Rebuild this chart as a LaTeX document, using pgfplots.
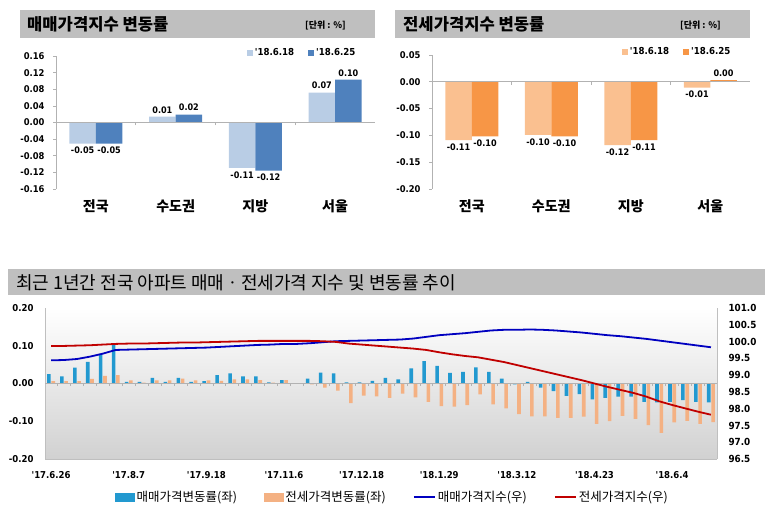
\documentclass[border=0pt]{standalone}
\usepackage{fontspec}
\setmainfont{Noto Sans CJK KR}
\newfontfamily\numfont{DejaVu Sans Condensed}
\usepackage{pgfplots}
\usepackage{pgfplotstable}
\pgfplotsset{compat=1.18}

\definecolor{cTitle}{HTML}{BFBFBF}
\definecolor{cLa}{HTML}{B9CDE5}
\definecolor{cDa}{HTML}{4F81BD}
\definecolor{cLb}{HTML}{FAC090}
\definecolor{cDb}{HTML}{F79646}
\definecolor{cBarB}{HTML}{2299D0}
\definecolor{cBarO}{HTML}{F4B183}
\definecolor{cLineB}{HTML}{0000C0}
\definecolor{cLineR}{HTML}{C00000}

\pgfplotstableread{
idx sale jeonse saleidx jeonseidx
0 0.025 0.006 99.44 99.87
1 0.019 0.006 99.45 99.87
2 0.042 0.006 99.48 99.88
3 0.057 0.012 99.55 99.89
4 0.077 0.020 99.64 99.91
5 0.104 0.022 99.75 99.93
6 0.004 0.008 99.76 99.94
7 0.004 0.002 99.77 99.94
8 0.015 0.008 99.78 99.95
9 0.004 0.008 99.79 99.96
10 0.015 0.013 99.80 99.97
11 0.004 0.008 99.81 99.97
12 0.006 0.008 99.82 99.98
13 0.022 0.007 99.84 99.99
14 0.027 0.011 99.86 100.00
15 0.019 0.011 99.88 100.01
16 0.019 0.009 99.90 100.02
17 0.003 0.002 99.91 100.02
18 0.009 0.009 99.93 100.02
19 0.001 0.000 99.93 100.02
20 0.013 -0.002 99.95 100.02
21 0.029 -0.011 99.98 100.01
22 0.027 -0.019 100.01 99.99
23 0.003 -0.052 100.02 99.94
24 0.003 -0.032 100.03 99.91
25 0.007 -0.034 100.04 99.88
26 0.015 -0.038 100.05 99.85
27 0.011 -0.027 100.06 99.82
28 0.040 -0.037 100.09 99.79
29 0.059 -0.049 100.14 99.75
30 0.047 -0.060 100.19 99.68
31 0.028 -0.061 100.22 99.62
32 0.031 -0.057 100.25 99.57
33 0.043 -0.029 100.29 99.53
34 0.031 -0.055 100.33 99.46
35 0.013 -0.066 100.35 99.39
36 -0.002 -0.081 100.35 99.30
37 0.004 -0.087 100.36 99.21
38 -0.011 -0.087 100.35 99.12
39 -0.020 -0.091 100.33 99.03
40 -0.033 -0.091 100.30 98.94
41 -0.028 -0.088 100.27 98.85
42 -0.042 -0.107 100.23 98.75
43 -0.038 -0.100 100.19 98.65
44 -0.035 -0.086 100.16 98.56
45 -0.035 -0.094 100.12 98.47
46 -0.049 -0.110 100.08 98.36
47 -0.050 -0.131 100.03 98.22
48 -0.049 -0.103 99.98 98.11
49 -0.044 -0.099 99.93 98.01
50 -0.049 -0.107 99.88 97.91
51 -0.050 -0.102 99.83 97.82
}\weekly

\pgfplotsset{
  topchart/.style={
    anchor=south west, scale only axis,
    xmin=-0.5, xmax=3.5,
    ybar=0pt, bar width=26.5pt,
    axis x line*=bottom, axis y line*=left,
    x axis line style={draw=none},
    y axis line style={-, draw=gray!60, line width=0.6pt},
    xtick={0,1,2,3}, xticklabels={전국,수도권,지방,서울},
    xtick style={draw=none},
    xticklabel style={font=\bfseries\fontsize{14}{15}\selectfont, yshift=-4pt},
    ytick style={draw=gray!60, line width=0.6pt},
    tick align=outside, major tick length=3pt,
    yticklabel style={font=\numfont\bfseries\fontsize{9.3}{10}\selectfont, xshift=-5pt},
    scaled y ticks=false,
    /pgf/number format/fixed, /pgf/number format/fixed zerofill,
    /pgf/number format/precision=2, /pgf/number format/assume math mode=true,
    nodes near coords, point meta=y,
    every node near coord/.append style={font=\numfont\bfseries\fontsize{9}{10}\selectfont, black},
    legend style={draw=none, fill=none, at={(axis description cs:0.955,1.025)}, anchor=east,
      font=\numfont\bfseries\fontsize{9.6}{10}\selectfont,
      /tikz/every even column/.append style={column sep=12pt}},
    legend columns=2,
    legend image code/.code={\fill[##1] (0pt,-3pt) rectangle (6pt,3pt);},
    clip=false,
  },
  zeroline/.style={
    anchor=south west, scale only axis,
    axis x line=middle, axis y line=none,
    axis line style={-, draw=gray!60, line width=0.6pt},
    xticklabels={}, ytick=\empty,
    tick align=outside, major tick length=3pt,
    xtick style={draw=gray!60, line width=0.6pt},
  },
}

\begin{document}
\begin{tikzpicture}
\useasboundingbox (0pt,0pt) rectangle (770pt,524pt);

% title boxes
\fill[cTitle] (20pt,486pt) rectangle (375pt,514pt);
\node[anchor=west, font=\bfseries\fontsize{16.6}{17}\selectfont, inner sep=0pt] at (27pt,500pt) {매매가격지수 변동률};
\node[anchor=east, font=\bfseries\fontsize{9}{10}\selectfont, inner sep=0pt] at (346pt,499pt) {[단위 : \%]};

\fill[cTitle] (395pt,486pt) rectangle (750pt,514pt);
\node[anchor=west, font=\bfseries\fontsize{16.6}{17}\selectfont, inner sep=0pt] at (403pt,500pt) {전세가격지수 변동률};
\node[anchor=east, font=\bfseries\fontsize{9}{10}\selectfont, inner sep=0pt] at (721pt,499pt) {[단위 : \%]};

\fill[cTitle] (8pt,229pt) rectangle (765pt,255pt);
\node[anchor=west, font=\fontsize{18}{19}\selectfont, inner sep=0pt] at (16pt,241pt) {최근 1년간 전국 아파트 매매ㆍ전세가격 지수 및 변동률 추이};

% ---------- top-left: 매매 ----------
\begin{axis}[topchart, at={(56pt,335pt)}, width=319pt, height=133pt,
  ymin=-0.16, ymax=0.16,
  ytick={-0.16,-0.12,-0.08,-0.04,0,0.04,0.08,0.12,0.16}]
\addplot[fill=cLa, draw=none] coordinates {(0,-0.051) (1,0.014) (2,-0.109) (3,0.072)};
\addplot[fill=cDa, draw=none] coordinates {(0,-0.051) (1,0.019) (2,-0.116) (3,0.103)};
\legend{'18.6.18,'18.6.25}
\end{axis}
\begin{axis}[zeroline, at={(56pt,335pt)}, width=319pt, height=133pt,
  xmin=-0.5, xmax=3.5, ymin=-0.16, ymax=0.16, xtick={0.5,1.5,2.5}]
\end{axis}

% ---------- top-right: 전세 ----------
\begin{axis}[topchart, at={(432pt,335pt)}, width=318pt, height=134pt,
  ymin=-0.20, ymax=0.05,
  ytick={-0.20,-0.15,-0.10,-0.05,0,0.05}]
\addplot[fill=cLb, draw=none] coordinates {(0,-0.109) (1,-0.099) (2,-0.118) (3,-0.011)};
\addplot[fill=cDb, draw=none] coordinates {(0,-0.102) (1,-0.102) (2,-0.109) (3,0.003)};
\legend{'18.6.18,'18.6.25}
\end{axis}
\begin{axis}[zeroline, at={(432pt,335pt)}, width=318pt, height=134pt,
  xmin=-0.5, xmax=3.5, ymin=-0.20, ymax=0.05, xtick={0.5,1.5,2.5}]
\end{axis}

% ---------- bottom: weekly ----------
\begin{axis}[at={(45pt,65pt)}, anchor=south west, scale only axis,
  width=672pt, height=151pt,
  xmin=-0.47, xmax=51.47, ymin=-0.2, ymax=0.2,
  axis background/.style={top color=white, middle color=white, bottom color=black!18},
  ybar=0.7pt, bar width=3.6pt,
  axis x line*=bottom, axis y line*=left,
  axis line style={-, draw=gray!50, line width=0.6pt},
  xtick={0,6,12,18,24,30,36,42,48},
  xticklabels={'17.6.26,'17.8.7,'17.9.18,'17.11.6,'17.12.18,'18.1.29,'18.3.12,'18.4.23,'18.6.4},
  tick style={draw=none},
  xticklabel style={font=\numfont\bfseries\fontsize{9.5}{10}\selectfont, yshift=-5pt},
  ytick={-0.2,-0.1,0,0.1,0.2},
  yticklabel style={font=\numfont\bfseries\fontsize{9.5}{10}\selectfont, xshift=-8pt},
  scaled y ticks=false,
  /pgf/number format/fixed, /pgf/number format/fixed zerofill,
  /pgf/number format/precision=2, /pgf/number format/assume math mode=true,
]
\addplot[fill=cBarB, draw=none] table[x=idx, y=sale] {\weekly};
\addplot[fill=cBarO, draw=none] table[x=idx, y=jeonse] {\weekly};
\end{axis}
\begin{axis}[zeroline, at={(45pt,65pt)}, width=672pt, height=151pt,
  xmin=-0.47, xmax=51.47, ymin=-0.2, ymax=0.2,
  xtick={-0.5,0.5,...,51.5}, major tick length=2.5pt]
\end{axis}
\begin{axis}[at={(45pt,65pt)}, anchor=south west, scale only axis,
  width=672pt, height=151pt,
  xmin=-0.47, xmax=51.47, ymin=96.5, ymax=101,
  axis y line*=right, axis x line=none,
  axis line style={-, draw=gray!50, line width=0.6pt},
  ytick={96.5,97,97.5,98,98.5,99,99.5,100,100.5,101},
  tick style={draw=none},
  yticklabel style={font=\numfont\bfseries\fontsize{9.8}{10}\selectfont, xshift=8pt},
  /pgf/number format/fixed, /pgf/number format/fixed zerofill,
  /pgf/number format/precision=1, /pgf/number format/assume math mode=true,
  legend columns=4,
  legend style={draw=none, fill=none, at={(axis description cs:0.517,-0.25)}, anchor=center,
    font=\fontsize{12.5}{13}\selectfont,
    /tikz/every even column/.append style={column sep=25pt}},
]
\addlegendimage{legend image code/.code={\fill[cBarB] (0pt,-4pt) rectangle (19pt,4pt);}}
\addlegendentry{매매가격변동률(좌)}
\addlegendimage{legend image code/.code={\fill[cBarO] (0pt,-4pt) rectangle (19pt,4pt);}}
\addlegendentry{전세가격변동률(좌)}
\addlegendimage{legend image code/.code={\draw[cLineB, line width=2pt] (0pt,0pt) -- (21pt,0pt);}}
\addlegendentry{매매가격지수(우)}
\addlegendimage{legend image code/.code={\draw[cLineR, line width=2pt] (0pt,0pt) -- (21pt,0pt);}}
\addlegendentry{전세가격지수(우)}
\addplot[cLineB, line width=1.8pt, mark=none, forget plot] table[x=idx, y=saleidx] {\weekly};
\addplot[cLineR, line width=1.8pt, mark=none, forget plot] table[x=idx, y=jeonseidx] {\weekly};
\end{axis}
\end{tikzpicture}
\end{document}
